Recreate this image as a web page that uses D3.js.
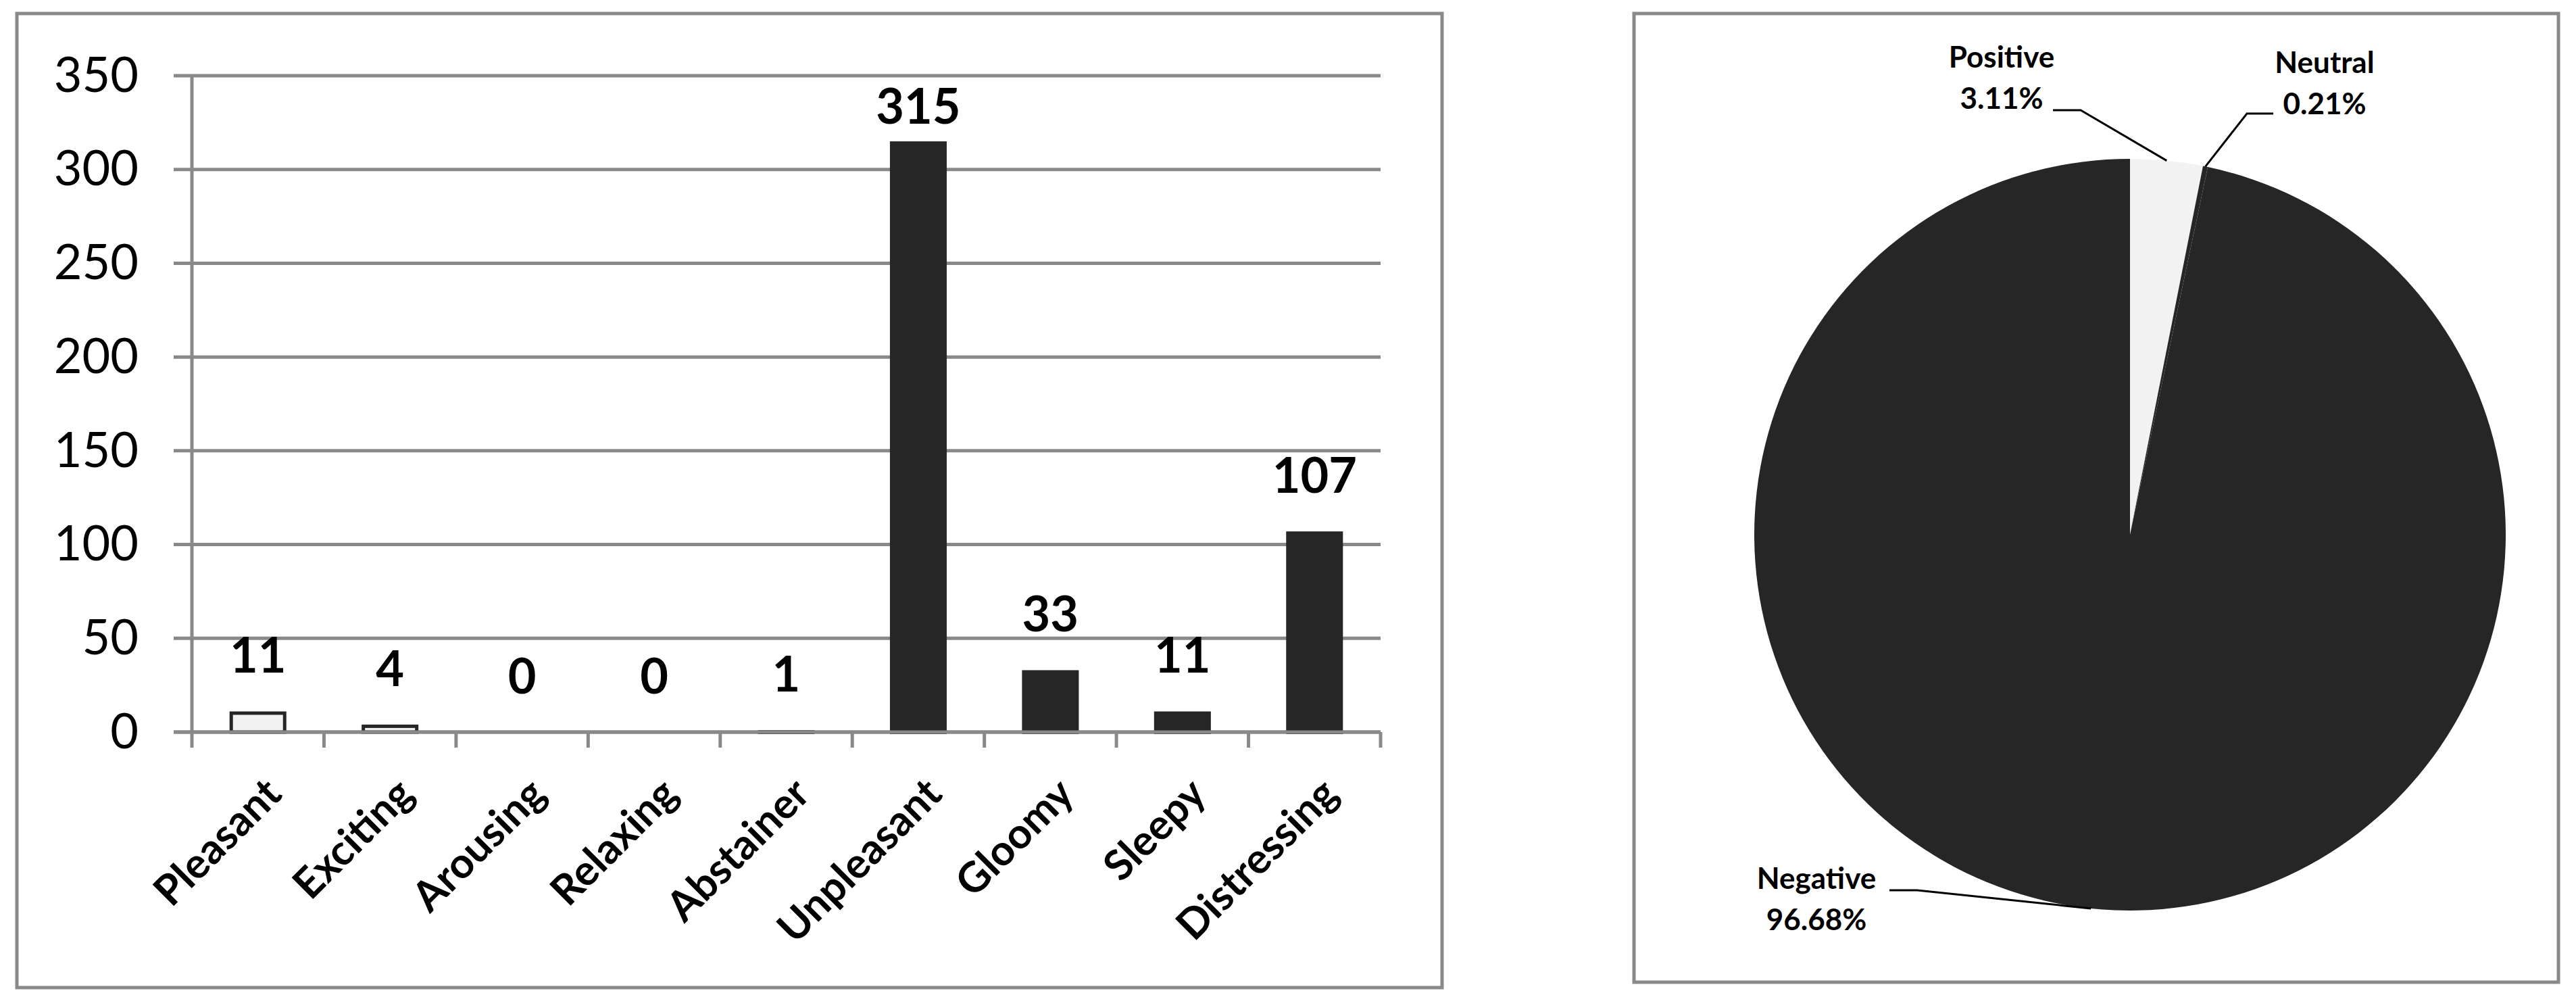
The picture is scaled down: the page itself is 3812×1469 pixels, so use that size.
<!DOCTYPE html>
<html>
<head>
<meta charset="utf-8">
<script src="https://cdn.jsdelivr.net/npm/d3@7"></script>
<style>
  body { margin: 0; background: #fff; }
  svg { display: block; font-family: Lato, "Open Sans", sans-serif; }
</style>
</head>
<body>
<div id="chart"></div>
<script>
// bar chart data
const categories = ["Pleasant", "Exciting", "Arousing", "Relaxing", "Abstainer",
                    "Unpleasant", "Gloomy", "Sleepy", "Distressing"];
const counts = [11, 4, 0, 0, 1, 315, 33, 11, 107];
const valence = ["Positive", "Positive", "Positive", "Positive", "Neutral",
                 "Negative", "Negative", "Negative", "Negative"];
const yTicks = [0, 50, 100, 150, 200, 250, 300, 350];

// pie slices, in drawing order
const sliceNames = ["Positive", "Neutral", "Negative"];

const dark = "#262626", light = "#f2f2f2", grid = "#898989";

const svg = d3.select("#chart").append("svg")
    .attr("width", 3812)
    .attr("height", 1469);

/*** left panel: bar chart ***/
svg.append("rect")
    .attr("x", 25).attr("y", 20)
    .attr("width", 2109).attr("height", 1441)
    .attr("fill", "none").attr("stroke", grid).attr("stroke-width", 5);

const x = d3.scaleBand()
    .domain(categories)
    .range([284, 2043])
    .padding(0);

const y = d3.scaleLinear()
    .domain([0, 350])
    .range([1083, 112]);

const barW = x.bandwidth() * 0.43;

// gridlines + y tick labels
svg.append("g").selectAll("line")
  .data(yTicks)
  .enter().append("line")
    .attr("x1", 257).attr("x2", 2043)
    .attr("y1", d => y(d)).attr("y2", d => y(d))
    .attr("stroke", grid).attr("stroke-width", 5);

svg.append("g").selectAll("text")
  .data(yTicks)
  .enter().append("text")
    .attr("x", 205)
    .attr("y", d => y(d))
    .attr("dy", "0.33em")
    .attr("text-anchor", "end")
    .style("font-size", "72px")
    .text(d => d);

// bars
const bars = categories.map((c, i) => ({ cat: c, value: counts[i], tone: valence[i] }));
const isLight = d => d.tone === "Positive";

svg.append("g").selectAll("rect")
  .data(bars)
  .enter().append("rect")
    .attr("x", d => x(d.cat) + (x.bandwidth() - barW) / 2 + (isLight(d) ? 2.5 : 0))
    .attr("y", d => isLight(d) ? y(d.value) + 2.5 : y(d.value))
    .attr("width", d => isLight(d) ? barW - 5 : barW)
    .attr("height", d => isLight(d) ? Math.max(0, y(0) - y(d.value) - 2.5) : y(0) - y(d.value) + 3)
    .attr("fill", d => isLight(d) ? light : dark)
    .attr("stroke", d => isLight(d) && d.value > 0 ? dark : "none")
    .attr("stroke-width", 5);

// value labels
svg.append("g").selectAll("text")
  .data(bars)
  .enter().append("text")
    .attr("x", d => x(d.cat) + x.bandwidth() / 2)
    .attr("y", d => Math.max(y(d.value) - 57, 183))
    .attr("text-anchor", "middle")
    .style("font-size", "72px")
    .style("font-weight", "bold")
    .text(d => d.value);

// axes lines and category ticks
svg.append("line")
    .attr("x1", 284).attr("x2", 284)
    .attr("y1", 112).attr("y2", 1106)
    .attr("stroke", grid).attr("stroke-width", 5);

svg.append("line")
    .attr("x1", 257).attr("x2", 2043)
    .attr("y1", y(0)).attr("y2", y(0))
    .attr("stroke", grid).attr("stroke-width", 5);

svg.append("g").selectAll("line")
  .data(categories)
  .enter().append("line")
    .attr("x1", d => x(d) + x.bandwidth()).attr("x2", d => x(d) + x.bandwidth())
    .attr("y1", y(0)).attr("y2", 1106)
    .attr("stroke", grid).attr("stroke-width", 5);

svg.append("g").selectAll("text")
  .data(categories)
  .enter().append("text")
    .attr("transform", d => `translate(${x(d) + x.bandwidth() / 2 + 38}, 1178) rotate(-45)`)
    .attr("text-anchor", "end")
    .style("font-size", "62px")
    .style("font-weight", "bold")
    .text(d => d);

/*** right panel: pie chart ***/
svg.append("rect")
    .attr("x", 2418).attr("y", 20)
    .attr("width", 1368).attr("height", 1433)
    .attr("fill", "none").attr("stroke", grid).attr("stroke-width", 5);

const totals = d3.rollup(bars, v => d3.sum(v, d => d.value), d => d.tone);
const slices = sliceNames.map(n => ({ name: n, value: totals.get(n) || 0 }));
const grand = d3.sum(slices, d => d.value);

const cx = 3152, cy = 791, r = 556;

const pie = d3.pie().sort(null).value(d => d.value);
const arc = d3.arc().innerRadius(0).outerRadius(r);
const rim = d3.arc().innerRadius(r).outerRadius(r);

const pieG = svg.append("g").attr("transform", `translate(${cx},${cy})`);
const arcs = pie(slices);

pieG.selectAll("path")
  .data(arcs)
  .enter().append("path")
    .attr("d", arc)
    .attr("fill", d => d.data.name === "Positive" ? light : dark);

// label layout (absolute page positions)
const labelLayout = {
  Positive: { tx: 2962, ty: 100, elbow: [[3038, 163], [3079, 163]] },
  Neutral:  { tx: 3440, ty: 108, elbow: [[3364, 168], [3325, 168]] },
  Negative: { tx: 2688, ty: 1315, elbow: [[2796, 1317], [2837, 1317]] }
};
const fmt = d3.format(".2%");

arcs.forEach(a => {
  const L = labelLayout[a.data.name];
  const c = rim.centroid(a);
  const pts = L.elbow.concat([[cx + c[0], cy + c[1]]]);
  svg.append("path")
      .attr("d", d3.line()(pts))
      .attr("fill", "none")
      .attr("stroke", "#000")
      .attr("stroke-width", 3);

  const t = svg.append("text")
      .attr("text-anchor", "middle")
      .style("font-size", "44px")
      .style("font-weight", "bold");
  t.append("tspan").attr("x", L.tx).attr("y", L.ty).text(a.data.name);
  t.append("tspan").attr("x", L.tx).attr("y", L.ty + 61).text(fmt(a.data.value / grand));
});
</script>
</body>
</html>
